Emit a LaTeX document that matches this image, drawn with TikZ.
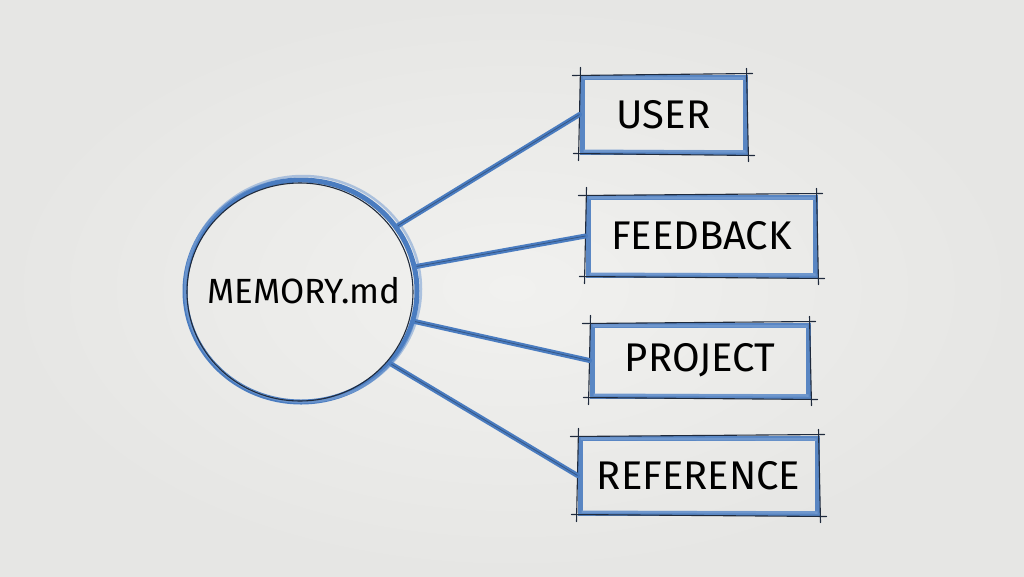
\documentclass[tikz,border=0pt]{standalone}
\usepackage{fontspec}
\setmainfont{Fira Sans}
\usetikzlibrary{shapes.geometric}
\definecolor{bgc}{HTML}{F1F1EF}
\definecolor{bgo}{HTML}{E6E6E4}
\definecolor{pen}{HTML}{4A7CC0}
\definecolor{penlight}{HTML}{7FA3D4}
\definecolor{ink}{HTML}{1F2A3C}
\newcommand{\sketchbox}[1]{%
  \draw[inkline] ([xshift=-7pt,yshift=-1pt]#1.north west) -- ([xshift=5pt,yshift=1pt]#1.north east);
  \draw[inkline] ([xshift=-6pt,yshift=1pt]#1.south west) -- ([xshift=7pt,yshift=-1pt]#1.south east);
  \draw[inkline] ([xshift=1pt,yshift=7pt]#1.north west) -- ([xshift=-1pt,yshift=-6pt]#1.south west);
  \draw[inkline] ([xshift=-1pt,yshift=6pt]#1.north east) -- ([xshift=1pt,yshift=-7pt]#1.south east);
  \draw[draw=penlight, line width=2.5pt, opacity=0.6] ([xshift=3pt,yshift=-3pt]#1.north west) -- ([xshift=-3pt,yshift=-4pt]#1.north east);
  \draw[draw=penlight, line width=2.5pt, opacity=0.6] ([xshift=4pt,yshift=4pt]#1.south west) -- ([xshift=-2pt,yshift=3pt]#1.south east);
}
\begin{document}
\begin{tikzpicture}[x=1pt,y=-1pt,
  lbl/.style={font=\fontsize{40}{44}\selectfont, text=black},
  box/.style={rectangle, draw=pen, line width=5pt, draw opacity=0.9, lbl, inner sep=0pt},
  inkline/.style={draw=ink, line width=1.1pt, line cap=round},
  conn/.style={draw=pen, line width=5pt, line cap=round},
  conninner/.style={draw=ink, line width=0.8pt, opacity=0.45},
]
\shade[inner color=bgc, outer color=bgo] (0,0) rectangle (1024,576);
\useasboundingbox (0,0) rectangle (1024,576);

% central circle
\node[ellipse, draw=pen, line width=5pt, minimum width=232pt, minimum height=222pt, inner sep=0pt] (mem) at (301,291) {};
\draw[penlight, line width=2.5pt, opacity=0.6] (303,289) ellipse [x radius=118, y radius=113];
\draw[ink, line width=1.1pt] (300,292) ellipse [x radius=113, y radius=109];
\node[lbl, font=\fontsize{35}{40}\selectfont] (memlabel) at (304,291) {MEMORY.md};

% boxes
\node[box, minimum width=163pt, minimum height=75pt] (user) at (663.5,114.5) {USER};
\node[box, minimum width=227pt, minimum height=78pt] (feedback) at (701.5,236) {FEEDBACK};
\node[box, minimum width=216pt, minimum height=71pt] (project) at (700,360.5) {PROJECT};
\node[box, minimum width=237pt, minimum height=75pt] (reference) at (698.5,475.5) {REFERENCE};

\sketchbox{user}
\sketchbox{feedback}
\sketchbox{project}
\sketchbox{reference}

% connectors
\draw[conn] (mem.34) -- (user.west);
\draw[conninner] (mem.34) -- (user.west);
\draw[conn] (mem.12) -- (feedback.west);
\draw[conninner] (mem.12) -- (feedback.west);
\draw[conn] (mem.-15) -- (project.west);
\draw[conninner] (mem.-15) -- (project.west);
\draw[conn] (mem.-39) -- (reference.west);
\draw[conninner] (mem.-39) -- (reference.west);
\end{tikzpicture}
\end{document}
